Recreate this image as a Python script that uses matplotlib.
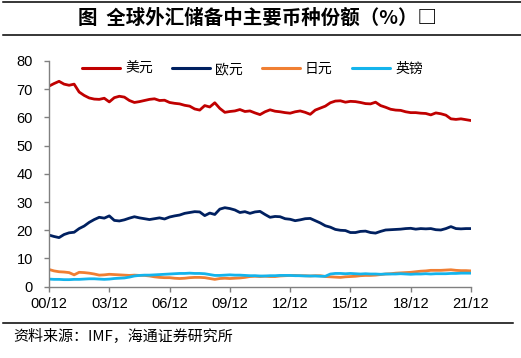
import matplotlib
matplotlib.use("Agg")
import matplotlib.pyplot as plt
from matplotlib.lines import Line2D
import numpy as np

plt.rcParams['font.family'] = ['Liberation Sans', 'Noto Sans CJK SC', 'DejaVu Sans']

tick_labels = ["00/12", "03/12", "06/12", "09/12", "12/12", "15/12", "18/12", "21/12"]

usd = [71.1, 72.0, 72.8, 71.8, 71.4, 71.8, 69.0, 67.8, 66.9, 66.5,
       66.4, 66.8, 65.5, 67.0, 67.5, 67.2, 66.0, 65.3, 65.6, 66.0,
       66.4, 66.6, 66.0, 66.1, 65.3, 65.0, 64.8, 64.3, 64.0, 63.0,
       62.6, 64.2, 63.7, 65.2, 63.2, 61.8, 62.1, 62.3, 62.8, 62.1,
       62.3, 61.6, 61.0, 62.0, 62.7, 62.2, 62.0, 61.7, 61.5, 62.0,
       62.3, 61.8, 61.1, 62.6, 63.3, 64.0, 65.2, 65.8, 65.9, 65.4,
       65.7, 65.6, 65.3, 64.9, 64.8, 65.4, 64.2, 63.6, 62.9, 62.6,
       62.5, 62.0, 61.7, 61.7, 61.5, 61.4, 60.9, 61.6, 61.3, 60.8,
       59.5, 59.3, 59.5, 59.2, 58.9]

eur = [18.3, 17.8, 17.4, 18.5, 19.1, 19.3, 20.6, 21.5, 22.8, 23.8,
       24.6, 24.3, 25.1, 23.5, 23.3, 23.7, 24.3, 24.8, 24.4, 24.1,
       23.8, 24.1, 24.4, 24.0, 24.7, 25.1, 25.4, 26.0, 26.3, 26.6,
       26.5, 25.2, 26.1, 25.6, 27.5, 28.0, 27.7, 27.2, 26.3, 26.6,
       26.0, 26.5, 26.7, 25.6, 24.6, 24.9, 24.8, 24.1, 23.9, 23.4,
       23.7, 24.1, 24.2, 23.4, 22.6, 21.6, 21.1, 20.3, 20.0, 19.9,
       19.2, 19.2, 19.6, 19.7, 19.2, 19.0, 19.6, 20.1, 20.2, 20.3,
       20.4, 20.6, 20.7, 20.4, 20.6, 20.5, 20.6, 20.2, 20.1, 20.6,
       21.3, 20.6, 20.5, 20.6, 20.6]

jpy = [6.1, 5.6, 5.3, 5.2, 5.0, 4.2, 5.1, 5.0, 4.8, 4.5,
       4.1, 4.2, 4.4, 4.3, 4.2, 4.1, 4.0, 4.1, 4.0, 4.0,
       3.8, 3.5, 3.3, 3.2, 3.2, 3.0, 2.9, 3.0, 3.2, 3.3,
       3.3, 3.2, 2.9, 2.6, 2.9, 3.0, 2.9, 3.0, 3.1, 3.3,
       3.6, 3.7, 3.6, 3.7, 3.6, 3.6, 3.8, 3.9, 4.0, 4.0,
       3.9, 3.9, 3.8, 3.9, 3.9, 3.6, 3.5, 3.4, 3.3, 3.5,
       3.6, 3.7, 3.9, 4.0, 4.0, 4.1, 4.3, 4.5, 4.6, 4.8,
       4.9, 5.0, 5.1, 5.3, 5.5, 5.6, 5.8, 5.8, 5.8, 5.9,
       6.0, 5.8, 5.7, 5.7, 5.6]

gbp = [2.7, 2.6, 2.6, 2.5, 2.5, 2.6, 2.6, 2.7, 2.8, 2.8,
       2.7, 2.6, 2.7, 2.9, 3.0, 3.1, 3.4, 3.8, 4.0, 4.1,
       4.1, 4.2, 4.3, 4.4, 4.5, 4.6, 4.7, 4.7, 4.8, 4.7,
       4.7, 4.6, 4.3, 4.0, 4.0, 4.1, 4.2, 4.1, 4.1, 4.0,
       3.9, 3.9, 3.8, 3.8, 3.9, 3.9, 4.0, 4.0, 4.0, 3.9,
       3.9, 3.8, 3.8, 3.8, 3.7, 3.7, 4.5, 4.7, 4.7, 4.6,
       4.7, 4.6, 4.5, 4.6, 4.5, 4.5, 4.4, 4.5, 4.5, 4.5,
       4.6, 4.5, 4.4, 4.5, 4.5, 4.6, 4.5, 4.6, 4.6, 4.6,
       4.7, 4.7, 4.8, 4.8, 4.8]

series_names = ["美元", "欧元", "日元", "英镑"]
colors = ["#C00000", "#002060", "#F07F33", "#14B4EC"]

W, H = 521, 358
fig = plt.figure(figsize=(W / 100, H / 100), dpi=100)
ax = fig.add_axes([49 / W, 71.3 / H, 422 / W, 225.7 / H])

q = np.arange(len(usd))
for data, name, c in zip([usd, eur, jpy, gbp], series_names, colors):
    ax.plot(q, data, color=c, lw=2.0, label=name, solid_capstyle='round')

ax.set_xlim(0, len(usd) - 1)
ax.set_ylim(0, 80)
ax.set_yticks(range(0, 81, 10))
ax.set_xticks(np.arange(0, len(usd), 12))
ax.set_xticklabels(tick_labels)
for s in ['top', 'right']:
    ax.spines[s].set_visible(False)
for s in ['left', 'bottom']:
    ax.spines[s].set_color('#808080')
    ax.spines[s].set_linewidth(1.0)
ax.tick_params(axis='both', colors='#808080', labelcolor='black', labelsize=10.5,
               length=3.5, width=1.0, direction='out')
ax.tick_params(axis='y', pad=8)
ax.tick_params(axis='x', pad=4)

leg = fig.legend(loc='center left', bbox_to_anchor=(82 / W, 1 - 69 / H), ncol=4,
                 frameon=False, handlelength=2.75, handletextpad=0.35,
                 columnspacing=1.38, borderpad=0, borderaxespad=0,
                 prop={'family': ['Noto Sans CJK SC'], 'size': 10})
for lh in leg.get_lines():
    lh.set_linewidth(2.2)

fig.text(258 / W, 1 - 18 / H, "图  全球外汇储备中主要币种份额（%）□", ha='center', va='center',
         fontsize=14, fontweight='bold', family=['Noto Sans CJK SC', 'DejaVu Sans'])
fig.text(13 / W, 1 - 337 / H, "资料来源：IMF，海通证券研究所", ha='left', va='center',
         fontsize=10.8, family=['Noto Sans CJK SC', 'DejaVu Sans'])

for yy, x0, x1 in [(2, 3, 521), (35, 3, 521), (323, 3, 513)]:
    fig.add_artist(Line2D([x0 / W, x1 / W], [1 - yy / H, 1 - yy / H], color='black', lw=1.1,
                          transform=fig.transFigure))

fig.savefig("out.png", dpi=100)
